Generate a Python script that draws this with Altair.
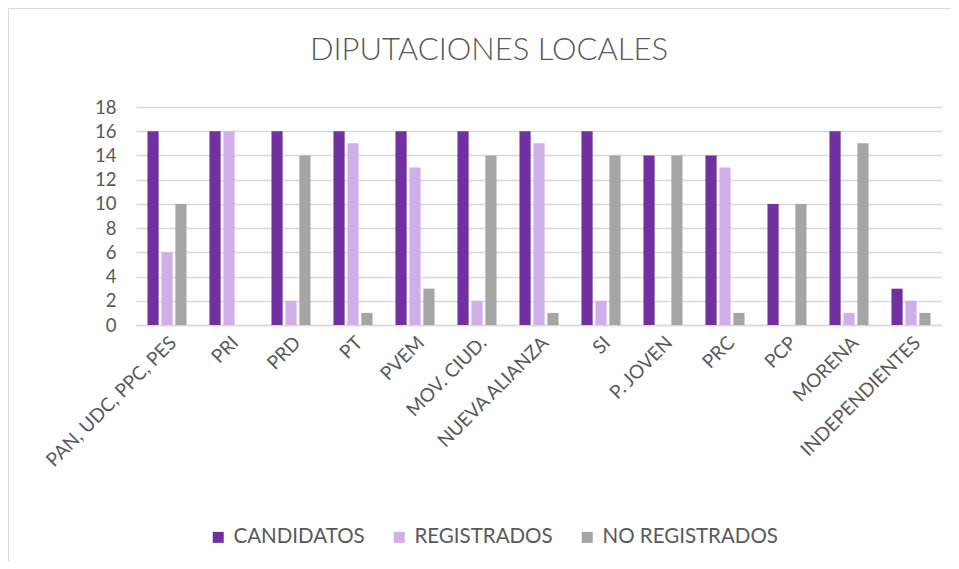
import altair as alt
import pandas as pd

categories = ["PAN, UDC, PPC, PES", "PRI", "PRD", "PT", "PVEM", "MOV. CIUD.",
              "NUEVA ALIANZA", "SI", "P. JOVEN", "PRC", "PCP", "MORENA", "INDEPENDIENTES"]
series = ["CANDIDATOS", "REGISTRADOS", "NO REGISTRADOS"]
candidatos = [16, 16, 16, 16, 16, 16, 16, 16, 14, 14, 10, 16, 3]
registrados = [6, 16, 2, 15, 13, 2, 15, 2, 0, 13, 0, 1, 2]
no_registrados = [10, 0, 14, 1, 3, 14, 1, 14, 14, 1, 10, 15, 1]
colors = ["#7030A0", "#D0AEE8", "#A5A5A5"]
y_ticks = [0, 2, 4, 6, 8, 10, 12, 14, 16, 18]
title_text = "DIPUTACIONES LOCALES"

rows = []
for name, vals in zip(series, [candidatos, registrados, no_registrados]):
    for c, v in zip(categories, vals):
        rows.append({"partido": c, "serie": name, "valor": v})
df = pd.DataFrame(rows)

FONT = "Lato"
TXT = "#595959"

bars = alt.Chart(df).mark_bar().encode(
    x=alt.X("partido:N", sort=categories, title=None,
            scale=alt.Scale(paddingInner=0.37, paddingOuter=0.185),
            axis=alt.Axis(labelAngle=-45, labelFontSize=19, labelColor=TXT,
                          labelFont=FONT, ticks=False, domainColor="#D9D9D9",
                          domainWidth=1.5, labelPadding=8, labelLimit=300)),
    xOffset=alt.XOffset("serie:N", sort=series,
                        scale=alt.Scale(paddingInner=0.2, paddingOuter=0)),
    y=alt.Y("valor:Q", title=None,
            scale=alt.Scale(domain=[0, 18], nice=False),
            axis=alt.Axis(values=y_ticks, labelFontSize=18.5, labelColor=TXT,
                          labelFont=FONT, ticks=False, domain=False,
                          gridColor="#D9D9D9", gridWidth=1.5, labelPadding=20)),
    color=alt.Color("serie:N", sort=series,
                    scale=alt.Scale(domain=series, range=colors),
                    legend=alt.Legend(title=None, orient="none", legendX=72,
                                      legendY=420, direction="horizontal",
                                      symbolType="square", symbolSize=121,
                                      symbolStrokeWidth=0, labelFontSize=20.5,
                                      labelFont=FONT, labelColor=TXT,
                                      labelLimit=400, columnPadding=24,
                                      labelOffset=5)),
)

base = alt.Chart(alt.Data(values=[{}]))

frame = base.mark_rect(fill=None, stroke="#D9D9D9", strokeWidth=2).encode(
    x=alt.value(-128), x2=alt.value(840),
    y=alt.value(-99), y2=alt.value(480),
)

title = base.mark_text(
    text=title_text, font=FONT, fontSize=31, fontWeight=300, color=TXT,
    align="center", baseline="middle"
).encode(x=alt.value(353), y=alt.value(-56))

chart = alt.layer(frame, title, bars).properties(
    width=806, height=218,
    autosize="none",
    padding={"left": 128, "top": 99, "right": 9, "bottom": 236},
).configure_view(stroke=None)

chart.save("out.html", embed_options={"renderer": "svg", "actions": False})
